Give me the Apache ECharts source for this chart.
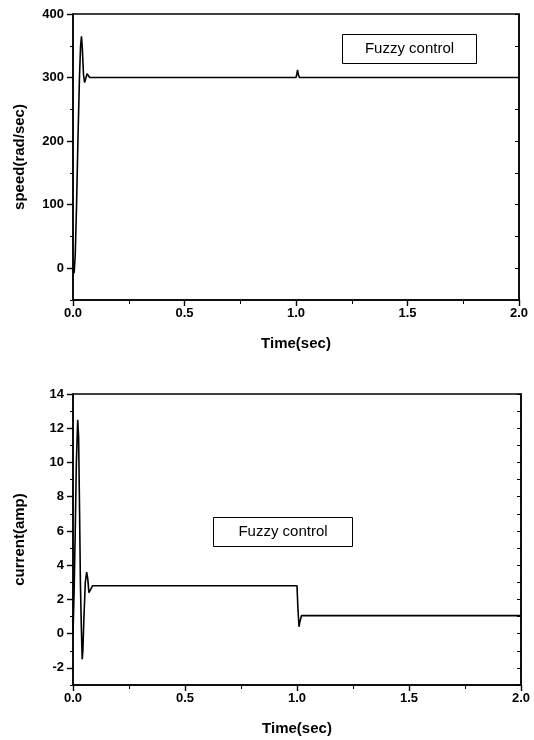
<!DOCTYPE html>
<html>
<head>
<meta charset="utf-8">
<script src="https://cdn.jsdelivr.net/npm/echarts@6/dist/echarts.min.js"></script>
<style>
  html, body { margin: 0; padding: 0; background: #fff; }
  #chart { width: 534px; height: 740px; }
</style>
</head>
<body>
<div id="chart"></div>
<script>
// speed response (top panel)
const speedTime = [0, 0.005, 0.01, 0.016, 0.022, 0.029, 0.034, 0.038, 0.042, 0.047, 0.052, 0.057, 0.063, 0.069, 0.075, 0.083, 1.0, 1.004, 1.007, 1.011, 1.016, 2.0];
const speedValues = [0, -8, 20, 100, 200, 300, 350, 365, 345, 305, 292, 298, 306, 303, 300, 300, 300, 306, 312, 304, 300, 300];

// current response (bottom panel)
const currentTime = [0, 0.005, 0.01, 0.015, 0.021, 0.025, 0.029, 0.033, 0.037, 0.041, 0.044, 0.049, 0.055, 0.061, 0.066, 0.071, 0.077, 0.088, 1.0, 1.004, 1.009, 1.013, 1.02, 2.0];
const currentValues = [0, 2.5, 6, 10, 12.5, 11.5, 7.5, 3, 0.5, -1.5, -1, 1, 3, 3.6, 3.2, 2.4, 2.4, 2.8, 2.8, 1.5, 0.4, 0.7, 1.05, 1.05];

const timeTicks = [0, 0.5, 1.0, 1.5, 2.0];
const speedTicks = [0, 100, 200, 300, 400];
const speedMinor = [-50, 50, 150, 250, 350];
const currentTicks = [-2, 0, 2, 4, 6, 8, 10, 12, 14];
const currentMinor = [-3, -1, 1, 3, 5, 7, 9, 11, 13];

const speedData = speedTime.map((t, i) => [t, speedValues[i]]);
const currentData = currentTime.map((t, i) => [t, currentValues[i]]);

const chart = echarts.init(document.getElementById("chart"));
const font = "'Liberation Sans', Arial, sans-serif";
const labelStyle = { color: "#000", fontFamily: font, fontWeight: "bold", fontSize: 13 };
const nameStyle = { color: "#000", fontFamily: font, fontWeight: "bold", fontSize: 15 };
const line = { show: true, onZero: false, lineStyle: { color: "#000", width: 1.5 } };

function xAxisFor(grid) {
  return {
    type: "value", gridIndex: grid, min: 0, max: 2, interval: 0.5,
    name: "Time(sec)", nameLocation: "middle", nameGap: 36, nameTextStyle: nameStyle,
    axisLine: line, splitLine: { show: false },
    axisTick: { show: true, length: 6, customValues: timeTicks, lineStyle: { color: "#000", width: 1.4 } },
    minorTick: { show: true, splitNumber: 2, length: 4, lineStyle: { color: "#000" } },
    axisLabel: Object.assign({ margin: 7, customValues: timeTicks, formatter: v => v.toFixed(1) }, labelStyle)
  };
}

function yAxesFor(grid, min, max, major, minor, name) {
  return [
    {
      type: "value", gridIndex: grid, min: min, max: max, position: "left",
      name: name, nameLocation: "middle", nameGap: 46, nameTextStyle: nameStyle,
      axisLine: line, splitLine: { show: false },
      axisTick: { show: true, length: 6, customValues: major, lineStyle: { color: "#000", width: 1.4 } },
      axisLabel: Object.assign({ margin: 9, customValues: major }, labelStyle)
    },
    {
      type: "value", gridIndex: grid, min: min, max: max, position: "left",
      axisLine: { show: false }, splitLine: { show: false }, axisLabel: { show: false },
      axisTick: { show: true, length: 3, customValues: minor, lineStyle: { color: "#000" } }
    },
    {
      type: "value", gridIndex: grid, min: min, max: max, position: "right",
      axisLine: line, splitLine: { show: false }, axisLabel: { show: false },
      axisTick: { show: true, inside: true, length: 4, customValues: major.concat(minor), lineStyle: { color: "#000" } }
    }
  ];
}

function box(x, y, w, h) {
  return {
    type: "group", left: x, top: y,
    children: [
      { type: "rect", shape: { x: 0, y: 0, width: w, height: h }, style: { fill: "#fff", stroke: "#000", lineWidth: 1 } },
      { type: "text", x: w / 2, y: h / 2, style: { text: "Fuzzy control", fill: "#000", font: "15px " + font, align: "center", verticalAlign: "middle" } }
    ]
  };
}

chart.setOption({
  animation: false,
  backgroundColor: "#fff",
  grid: [
    { left: 73, right: 15, top: 14, height: 286, show: true, borderColor: "#000", borderWidth: 1.5 },
    { left: 73, right: 13, top: 394, height: 291, show: true, borderColor: "#000", borderWidth: 1.5 }
  ],
  xAxis: [xAxisFor(0), xAxisFor(1)],
  yAxis: [].concat(
    yAxesFor(0, -50, 400, speedTicks, speedMinor, "speed(rad/sec)"),
    yAxesFor(1, -3, 14, currentTicks, currentMinor, "current(amp)")
  ),
  series: [
    { type: "line", xAxisIndex: 0, yAxisIndex: 0, data: speedData, symbol: "none", lineStyle: { color: "#000", width: 1.6 } },
    { type: "line", xAxisIndex: 1, yAxisIndex: 3, data: currentData, symbol: "none", lineStyle: { color: "#000", width: 1.6 } }
  ],
  graphic: [box(342, 34, 134, 29), box(213, 517, 139, 29)]
});
</script>
</body>
</html>
